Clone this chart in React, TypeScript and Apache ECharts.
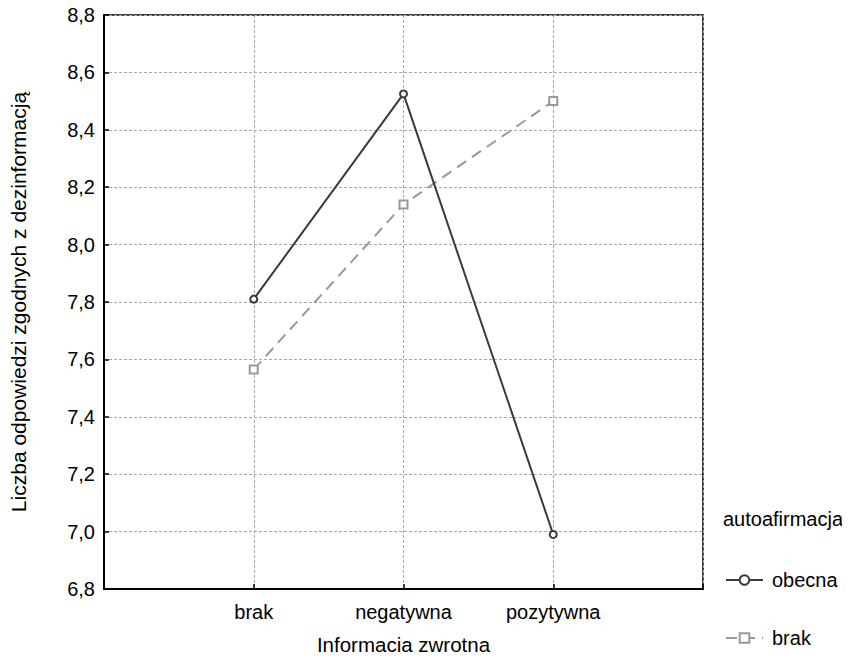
import React, { useEffect, useRef } from "react";
import * as echarts from "echarts";

// Feedback categories on the x axis (placed at positions 1..3)
const categories = ["brak", "negatywna", "pozytywna"];
// Mean counts per self-affirmation condition
const obecnaValues = [7.81, 8.525, 6.99];
const brakValues = [7.565, 8.14, 8.5];
const seriesNames = ["obecna", "brak"];

const FONT = "Liberation Sans, Arial, sans-serif";

export default function App() {
  const ref = useRef<HTMLDivElement>(null);

  useEffect(() => {
    if (!ref.current) return;
    const chart = echarts.init(ref.current, undefined, { renderer: "svg" });

    const toPoints = (vals: number[]) => vals.map((v, i) => [i + 1, v]);

    const option: echarts.EChartsOption = {
      animation: false,
      backgroundColor: "#ffffff",
      textStyle: { fontFamily: FONT },
      grid: {
        left: 103,
        right: 147,
        top: 15,
        bottom: 68,
        show: true,
        borderColor: "#000",
        borderWidth: 1.5,
        backgroundColor: "transparent",
      },
      xAxis: {
        type: "value",
        min: 0,
        max: 4,
        interval: 1,
        name: "Informacja zwrotna",
        nameLocation: "middle",
        nameGap: 45,
        nameTextStyle: { fontSize: 20.5, color: "#000", fontFamily: FONT },
        axisLine: { show: true, lineStyle: { color: "#000", width: 2 } },
        axisTick: {
          show: true,
          inside: true,
          length: 5,
          lineStyle: { color: "#000", width: 1.5 },
        },
        axisLabel: {
          fontSize: 20,
          color: "#000",
          margin: 13,
          fontFamily: FONT,
          formatter: (v: number) => categories[v - 1] ?? "",
        },
        splitLine: {
          show: true,
          lineStyle: { color: "#a8a8a8", type: [3, 2], width: 1 },
        },
      },
      yAxis: {
        type: "value",
        min: 6.8,
        max: 8.8,
        interval: 0.2,
        name: "Liczba odpowiedzi zgodnych z dezinformacją",
        nameLocation: "middle",
        nameGap: 75,
        nameTextStyle: { fontSize: 21, color: "#000", fontFamily: FONT },
        axisLine: { show: true, lineStyle: { color: "#000", width: 2 } },
        axisTick: {
          show: true,
          inside: true,
          length: 5,
          lineStyle: { color: "#000", width: 1.5 },
        },
        axisLabel: {
          fontSize: 20,
          color: "#000",
          margin: 9,
          fontFamily: FONT,
          formatter: (v: number) => v.toFixed(1).replace(".", ","),
        },
        splitLine: {
          show: true,
          lineStyle: { color: "#a8a8a8", type: [3, 2], width: 1 },
        },
      },
      legend: {
        orient: "vertical",
        left: 720,
        top: 565,
        itemWidth: 37,
        itemHeight: 12,
        itemGap: 38,
        textStyle: {
          fontSize: 20,
          color: "#000",
          fontFamily: FONT,
          padding: [0, 0, 0, 4],
        },
        data: seriesNames,
      },
      graphic: [
        {
          type: "text",
          left: 723,
          top: 509,
          style: {
            text: "autoafirmacja",
            fontSize: 20,
            fill: "#000",
            fontFamily: FONT,
          },
        },
      ],
      series: [
        {
          name: seriesNames[0],
          type: "line",
          data: toPoints(obecnaValues),
          symbol: "circle",
          symbolSize: 7,
          lineStyle: { color: "#3a3a3a", width: 2 },
          itemStyle: { color: "#ffffff", borderColor: "#3a3a3a", borderWidth: 2 },
          z: 3,
        },
        {
          name: seriesNames[1],
          type: "line",
          data: toPoints(brakValues),
          symbol: "rect",
          symbolSize: 8,
          lineStyle: { color: "#999999", width: 2, type: [11, 7] },
          itemStyle: { color: "#ffffff", borderColor: "#999999", borderWidth: 2 },
          z: 2,
        },
      ],
    };

    chart.setOption(option);
    return () => chart.dispose();
  }, []);

  return <div ref={ref} style={{ width: 850, height: 660, margin: -8 }} />;
}
